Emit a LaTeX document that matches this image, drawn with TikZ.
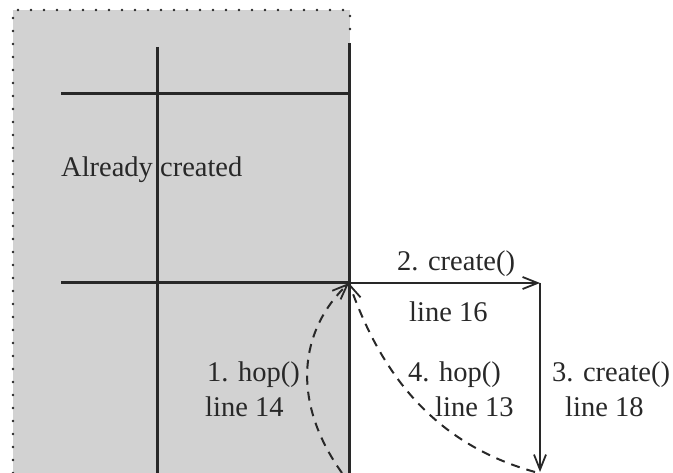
\documentclass[tikz,border=0pt]{standalone}
\usepackage{fontspec}
\setmainfont{Liberation Serif}
\usetikzlibrary{arrows.meta}
\definecolor{areagray}{RGB}{210,210,210}
\definecolor{ink}{RGB}{40,40,40}
\begin{document}
\begin{tikzpicture}[x=1pt,y=-1pt,
  grid/.style={line width=3pt, draw=ink},
  flow/.style={line width=2pt, draw=ink, -{Straight Barb[length=15pt,width=12pt,line width=1.8pt]}},
  hopline/.style={flow, dash pattern=on 9pt off 7pt},
  lbl/.style={font=\fontsize{28.5}{30}\selectfont, text=ink, inner sep=0pt, anchor=base west}]
\useasboundingbox (0,0) rectangle (673,473);
% shaded region
\fill[areagray] (13,10) rectangle (350,473);
\draw[ink, line width=2.8pt, dash pattern=on 0pt off 13pt, line cap=round] (13,473) -- (13,10) -- (350,10) -- (350,40);
% coordinates
\coordinate (v1t) at (157,47);
\coordinate (v1b) at (157,473);
\coordinate (v2t) at (349,43);
\coordinate (v2b) at (349,473);
\coordinate (h1l) at (61,94);
\coordinate (h1r) at (349,94);
\coordinate (h2l) at (61,283);
\coordinate (hub) at (349,283);
\coordinate (corner) at (540,283);
\coordinate (bend) at (540,472);
\coordinate (hopA) at (342,473);
\coordinate (hopB) at (535,472);
% grid lines
\draw[grid] (v1t) -- (v1b);
\draw[grid] (v2t) -- (v2b);
\draw[grid] (h1l) -- (h1r);
\draw[grid] (h2l) -- (hub);
% arrows
\draw[flow] (hub) -- (corner);
\draw[flow] (corner) -- (bend);
\draw[hopline] (hopA) .. controls (290,400) and (300,330) .. (hub);
\draw[hopline] (hopB) .. controls (420,440) and (375,355) .. (hub);
% labels
\node[lbl] (already) at (61,177) {Already created};
\node[lbl] (c2) at (397,271) {2. create()};
\node[lbl] (l16) at (409,322) {line 16};
\node[lbl] (h1) at (207,382) {1. hop()};
\node[lbl] (l14) at (205,417) {line 14};
\node[lbl] (h4) at (408,382) {4. hop()};
\node[lbl] (l13) at (435,417) {line 13};
\node[lbl] (c3) at (552,382) {3. create()};
\node[lbl] (l18) at (565,417) {line 18};
\end{tikzpicture}
\end{document}
